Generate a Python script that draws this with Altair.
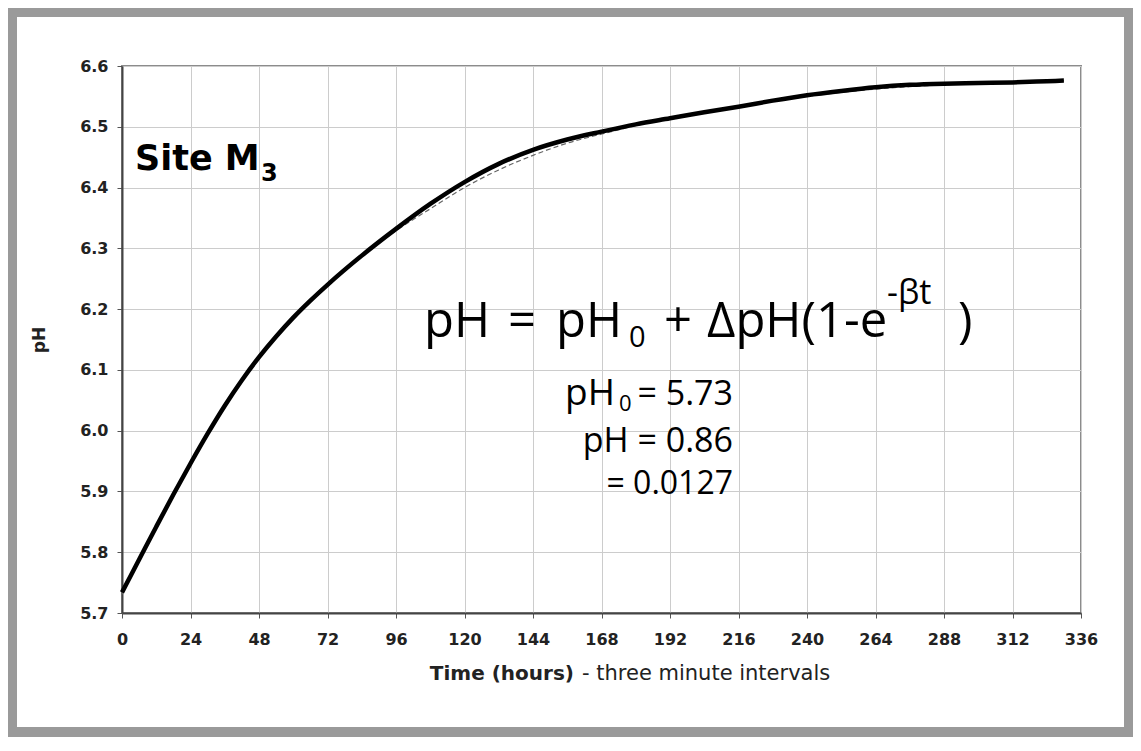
import altair as alt
import pandas as pd

# ---- data ----
hours = [0, 6, 12, 18, 24, 30, 36, 42, 48, 54, 60, 66, 72, 84, 96, 108, 120, 132, 144,
         156, 168, 180, 192, 204, 216, 228, 240, 252, 264, 276, 288, 300, 312, 324, 330]
ph_measured = [5.734, 5.788, 5.842, 5.895, 5.946, 5.995, 6.041, 6.083, 6.121, 6.155,
               6.186, 6.214, 6.240, 6.288, 6.332, 6.373, 6.409, 6.439, 6.462, 6.479,
               6.492, 6.504, 6.514, 6.524, 6.533, 6.543, 6.552, 6.559, 6.565, 6.569,
               6.571, 6.572, 6.573, 6.575, 6.576]

fit_hours = [0, 12, 24, 36, 48, 60, 72, 84, 96, 108, 120, 132, 144, 156, 168, 180,
             192, 216, 240, 264, 288, 312, 330]
ph_fit = [5.731, 5.842, 5.948, 6.040, 6.120, 6.187, 6.242, 6.289, 6.329, 6.365, 6.400,
          6.429, 6.453, 6.473, 6.488, 6.502, 6.514, 6.533, 6.550, 6.562, 6.569, 6.573,
          6.576]

x_ticks = list(range(0, 337, 24))
y_ticks = [5.7, 5.8, 5.9, 6.0, 6.1, 6.2, 6.3, 6.4, 6.5, 6.6]

W, H = 959, 547

measured = pd.DataFrame({"t": hours, "ph": ph_measured})
fitted = pd.DataFrame({"t": fit_hours, "ph": ph_fit})

x_axis = alt.Axis(values=x_ticks, title=None, labelFont="DejaVu Sans", labelFontWeight="bold",
                  labelFontSize=16, labelColor="#222222", tickSize=5, tickColor="#555555",
                  domainColor="#444444", domainWidth=2, gridColor="#cccccc", gridWidth=1,
                  labelPadding=13, labelFlush=False)
y_axis = alt.Axis(values=y_ticks, format=".1f", title=None, labelFont="DejaVu Sans",
                  labelFontWeight="bold", labelFontSize=16, labelColor="#222222", tickSize=5,
                  tickColor="#555555", domainColor="#444444", domainWidth=2,
                  gridColor="#cccccc", gridWidth=1, labelPadding=9, labelFlush=False)

xs = alt.Scale(domain=[0, 336], nice=False, zero=False)
ys = alt.Scale(domain=[5.7, 6.6], nice=False, zero=False)

fit_line = alt.Chart(fitted).mark_line(color="#666666", strokeWidth=1.2, strokeDash=[5, 3],
                                       interpolate="monotone").encode(
    x=alt.X("t:Q", scale=xs, axis=x_axis),
    y=alt.Y("ph:Q", scale=ys, axis=y_axis),
)
data_line = alt.Chart(measured).mark_line(color="black", strokeWidth=4.5,
                                          interpolate="monotone").encode(
    x=alt.X("t:Q", scale=xs, axis=x_axis),
    y=alt.Y("ph:Q", scale=ys, axis=y_axis),
)

OX, OY = 122, 66  # plot origin in page pixels


def label(text, px, py, size, font, weight="normal", align="left", angle=0,
          baseline="alphabetic", color="black"):
    return alt.Chart(pd.DataFrame({"s": [text]})).mark_text(
        align=align, baseline=baseline, font=font, fontSize=size, fontWeight=weight,
        angle=angle, color=color
    ).encode(x=alt.value(px - OX), y=alt.value(py - OY), text="s:N")


frame = alt.Chart(pd.DataFrame({"k": [0]})).mark_rect(
    fill=None, stroke="#9a9a9a", strokeWidth=10
).encode(x=alt.value(12 - OX), x2=alt.value(1129 - OX),
         y=alt.value(12 - OY), y2=alt.value(732 - OY))

EQ = "Open Sans"
texts = [
    label("Site M", 135, 170, 35, "DejaVu Sans", "bold"),
    label("3", 261, 181, 24, "DejaVu Sans", "bold"),
    # main equation
    label("pH", 424, 337, 49, EQ),
    label("=", 522, 337, 49, EQ, align="center"),
    label("pH", 556, 337, 49, EQ),
    label("0", 629, 347, 29, EQ),
    label("+", 678, 337, 49, EQ, align="center"),
    label("\u0394pH(1-e", 707, 337, 49, EQ),
    label("-\u03b2t", 887, 304, 34, EQ),
    label(")", 958, 337, 49, EQ),
    # parameters
    label("pH", 565, 405, 37, EQ),
    label("0", 619, 411, 22, EQ),
    label("= 5.73", 733, 405, 34, EQ, align="right"),
    label("pH = 0.86", 733, 452, 34, EQ, align="right"),
    label("= 0.0127", 733, 494, 32, EQ, align="right"),
    # axis titles
    label("Time (hours)", 574, 680, 20, "DejaVu Sans", "bold", align="right", color="#222222"),
    label("- three minute intervals", 582, 680, 21, "DejaVu Sans", align="left", color="#222222"),
    label("pH", 40, 340, 17, "DejaVu Sans", "bold", align="center", angle=270,
          baseline="middle", color="#222222"),
]

chart = alt.layer(frame, fit_line, data_line, *texts).properties(
    width=W, height=H,
    autosize=alt.AutoSizeParams(type="none"),
    padding={"left": 114, "top": 58, "right": 52, "bottom": 124},
    background="white",
).configure_view(stroke="#8c8c8c", strokeWidth=2)

chart.save("out.html", embed_options={"renderer": "svg", "actions": False})
